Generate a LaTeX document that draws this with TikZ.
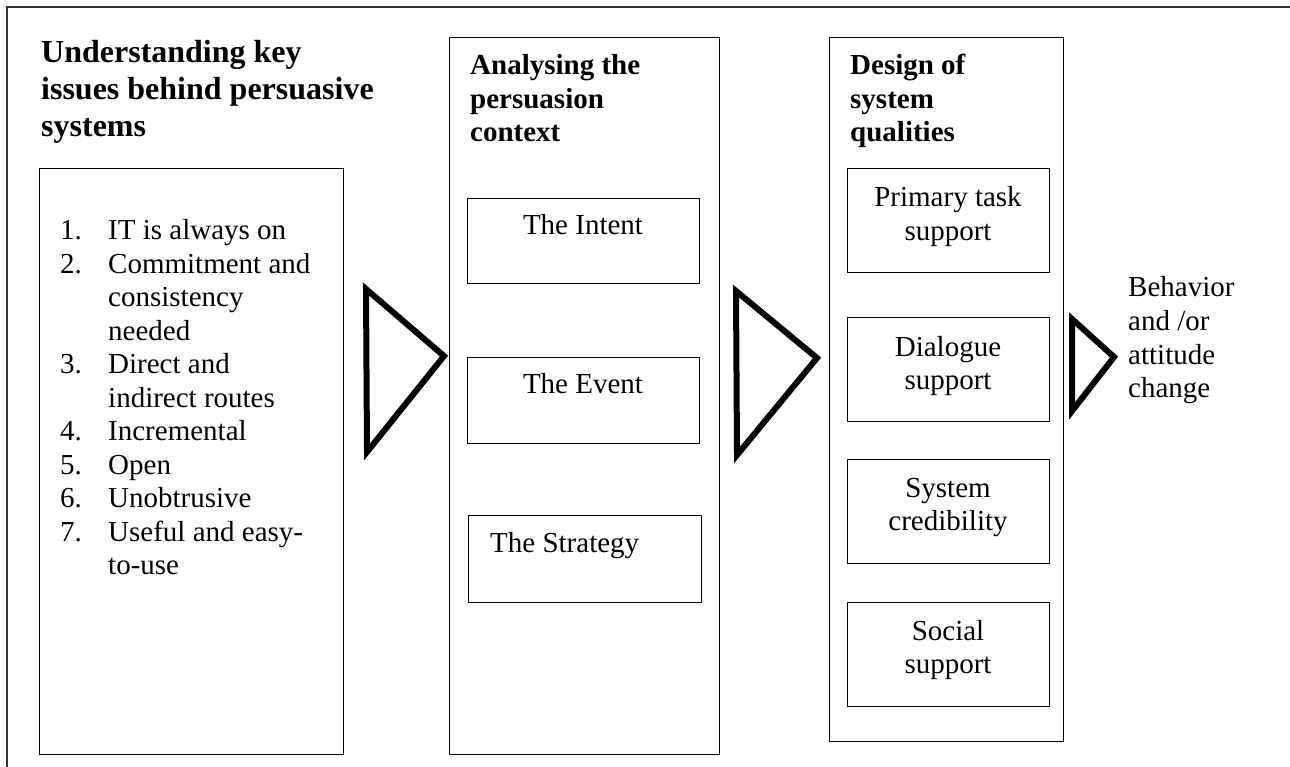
\documentclass[tikz,border=0pt]{standalone}
\usepackage{fontspec}
\setmainfont{Liberation Serif}
\begin{document}
\begin{tikzpicture}[x=1pt,y=-1pt,
  frame/.style={line width=1.4pt,black!80},
  box/.style={draw=black,line width=1.2pt,rectangle,inner sep=0pt,anchor=north west},
  tri/.style={draw=black,line width=6pt,line join=miter},
  txt/.style={inner sep=0pt,font=\fontsize{29}{33.5}\selectfont},
  head/.style={inner sep=0pt,font=\fontsize{29}{33.5}\selectfont\bfseries},
  bighead/.style={inner sep=0pt,font=\fontsize{32}{37}\selectfont\bfseries}]
\useasboundingbox (0,0) rectangle (1290,767);
% outer frame (top and left edges visible)
\coordinate (fa) at (7,767);
\coordinate (fb) at (7,7);
\coordinate (fc) at (1290,7);
\draw[frame] (fa) -- (fb) -- (fc);

% column boxes
\node[box,minimum width=304pt,minimum height=586pt] (left) at (39,168) {};
\node[box,minimum width=270pt,minimum height=717pt] (mid) at (449,37) {};
\node[box,minimum width=234pt,minimum height=704pt] (right) at (829,37) {};

% headings
\node[bighead,anchor=base west] (h1) at (41,63)
  {\begin{tabular}[t]{@{}l@{}}Understanding key\\issues behind persuasive\\systems\end{tabular}};
\node[head,anchor=base west] (h2) at (470,75)
  {\begin{tabular}[t]{@{}l@{}}Analysing the\\persuasion\\context\end{tabular}};
\node[head,anchor=base west] (h3) at (850,75)
  {\begin{tabular}[t]{@{}l@{}}Design of\\system\\qualities\end{tabular}};

% list
\node[txt,anchor=base west] (list) at (60,240)
  {\begin{tabular}[t]{@{}p{48pt}@{}l@{}}
  1. & IT is always on\\
  2. & Commitment and\\
     & consistency\\
     & needed\\
  3. & Direct and\\
     & indirect routes\\
  4. & Incremental\\
  5. & Open\\
  6. & Unobtrusive\\
  7. & Useful and easy-\\
     & to-use
  \end{tabular}};

% middle inner boxes
\node[box,minimum width=232pt,minimum height=85pt] (intent) at (467,198) {};
\node[box,minimum width=232pt,minimum height=86pt] (event) at (467,357) {};
\node[box,minimum width=233pt,minimum height=87pt] (strategy) at (468,515) {};
\node[txt,anchor=base] (intentT) at (583,235) {The Intent};
\node[txt,anchor=base] (eventT) at (583,393) {The Event};
\node[txt,anchor=base west] (strategyT) at (490,552) {The Strategy};

% right inner boxes
\node[box,minimum width=202pt,minimum height=104pt] (primary) at (847,168) {};
\node[box,minimum width=202pt,minimum height=104pt] (dialogue) at (847,317) {};
\node[box,minimum width=202pt,minimum height=104pt] (cred) at (847,459) {};
\node[box,minimum width=202pt,minimum height=104pt] (social) at (847,602) {};
\node[txt,anchor=base] (primaryT) at (948,207)
  {\begin{tabular}[t]{@{}c@{}}Primary task\\support\end{tabular}};
\node[txt,anchor=base] (dialogueT) at (948,356)
  {\begin{tabular}[t]{@{}c@{}}Dialogue\\support\end{tabular}};
\node[txt,anchor=base] (credT) at (948,497)
  {\begin{tabular}[t]{@{}c@{}}System\\credibility\end{tabular}};
\node[txt,anchor=base] (socialT) at (948,640)
  {\begin{tabular}[t]{@{}c@{}}Social\\support\end{tabular}};

% outcome text
\node[txt,anchor=base west] (outcome) at (1128,297)
  {\begin{tabular}[t]{@{}l@{}}Behavior\\and /or\\attitude\\change\end{tabular}};

% triangles
\coordinate (t1a) at (366,289); \coordinate (t1b) at (444,356); \coordinate (t1c) at (367,452);
\draw[tri] (t1a) -- (t1b) -- (t1c) -- cycle;
\coordinate (t2a) at (736,291); \coordinate (t2b) at (817,358); \coordinate (t2c) at (737,455);
\draw[tri] (t2a) -- (t2b) -- (t2c) -- cycle;
\coordinate (t3a) at (1072,319); \coordinate (t3b) at (1114,357); \coordinate (t3c) at (1072,411);
\draw[tri] (t3a) -- (t3b) -- (t3c) -- cycle;
\end{tikzpicture}
\end{document}
